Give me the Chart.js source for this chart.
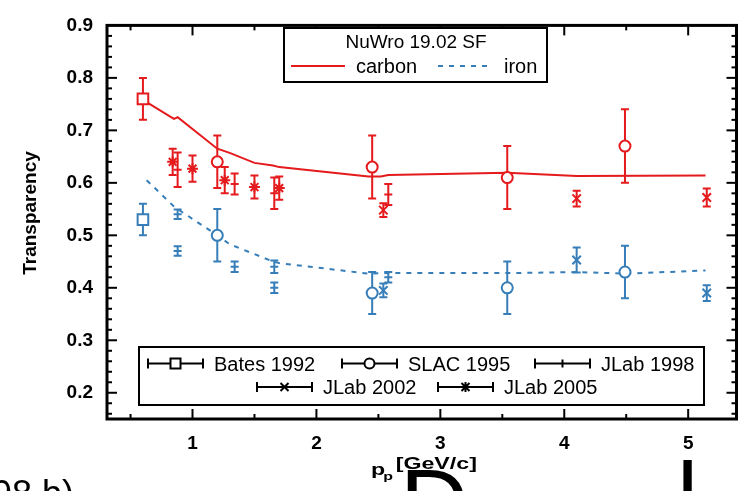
<!DOCTYPE html>
<html>
<head>
<meta charset="utf-8">
<script src="https://cdn.jsdelivr.net/npm/chart.js@4/dist/chart.umd.min.js"></script>
<style>
    html, body { margin: 0; padding: 0; background: #fff; overflow: hidden; }
    #wrap { position: relative; width: 746px; height: 491px; overflow: hidden; }
    .frag { position: absolute; font-family: "Liberation Sans", Arial, sans-serif; color: #000; line-height: 1; white-space: pre; }
</style>
</head>
<body>
<div id="wrap">
    <canvas id="chart" width="746" height="491"></canvas>
    <div class="frag" style="left:-48px; top:476px; font-size:36px;">1998 b)</div>
    <div class="frag" style="left:400px; top:455px; font-size:95px;">D</div>
    <div class="frag" style="left:677px; top:449px; font-size:95px;">l</div>
</div>
<script>
// axis ranges and tick labels
const xRange = [0.31, 5.39];
const yRange = [0.15, 0.9];
const xTicks = [1, 2, 3, 4, 5];
const yTicks = [0.2, 0.3, 0.4, 0.5, 0.6, 0.7, 0.8, 0.9];

// NuWro 19.02 SF curves
const carbonP = [0.60, 0.85, 0.88, 1.20, 1.30, 1.50, 1.65, 1.70, 2.42, 2.52, 2.58, 3.54, 4.10, 5.14];
const carbonT = [0.758, 0.722, 0.725, 0.665, 0.657, 0.638, 0.633, 0.630, 0.612, 0.612, 0.615, 0.619, 0.613, 0.614];
const ironP = [0.63, 0.85, 0.88, 1.20, 1.30, 1.65, 1.70, 2.42, 2.58, 3.54, 4.10, 4.50, 5.14];
const ironT = [0.605, 0.555, 0.55, 0.50, 0.483, 0.45, 0.447, 0.427, 0.428, 0.428, 0.43, 0.427, 0.433];

// measurements, carbon
const batesCP = [0.60], batesC = [0.76], batesCErr = [0.04];
const slacCP = [1.20, 2.45, 3.54, 4.49], slacC = [0.64, 0.63, 0.61, 0.67], slacCErr = [0.05, 0.06, 0.06, 0.07];
const jlab98CP = [0.88, 1.34, 1.66, 2.58], jlab98C = [0.625, 0.598, 0.58, 0.578], jlab98CErr = [0.033, 0.02, 0.03, 0.02];
const jlab02CP = [2.54, 4.10, 5.15], jlab02C = [0.548, 0.57, 0.572], jlab02CErr = [0.013, 0.015, 0.017];
const jlab05CP = [0.84, 1.00, 1.26, 1.50, 1.70], jlab05C = [0.64, 0.627, 0.605, 0.592, 0.59], jlab05CErr = [0.025, 0.025, 0.025, 0.022, 0.022];

// measurements, iron
const batesFP = [0.60], batesF = [0.53], batesFErr = [0.03];
const slacFP = [1.20, 2.45, 3.54, 4.49], slacF = [0.50, 0.39, 0.40, 0.43], slacFErr = [0.05, 0.04, 0.05, 0.05];
const jlab98FP = [0.88, 0.88, 1.34, 1.66, 1.66, 2.58], jlab98F = [0.54, 0.47, 0.44, 0.44, 0.40, 0.42], jlab98FErr = [0.009, 0.009, 0.01, 0.012, 0.01, 0.01];
const jlab02FP = [2.54, 4.10, 5.15], jlab02F = [0.395, 0.453, 0.39], jlab02FErr = [0.013, 0.024, 0.015];

const RED = '#e41a1c';
const BLUE = '#377eb8';
const FONT = '"Liberation Sans", Arial, sans-serif';

const pts = (xs, ys) => xs.map((v, i) => ({ x: v, y: ys[i] }));

function curve(label, xs, ys, color, dash) {
    return {
        label, type: 'scatter', showLine: true, data: pts(xs, ys),
        borderColor: color, borderWidth: 2, borderDash: dash, pointRadius: 0, order: 2
    };
}

function measured(label, xs, ys, errs, color, style, radius) {
    return {
        label, type: 'scatter', data: pts(xs, ys), errors: errs,
        borderColor: color, backgroundColor: '#fff', borderWidth: 2,
        pointStyle: style, pointRadius: radius, order: 1
    };
}

// vertical error bars with caps, drawn from the data through the scales
const errorBars = {
    id: 'errorBars',
    beforeDatasetsDraw(chart) {
        const { ctx, scales: { x, y } } = chart;
        chart.data.datasets.forEach(ds => {
            if (!ds.errors) return;
            ctx.save();
            ctx.strokeStyle = ds.borderColor;
            ctx.lineWidth = 2;
            ds.data.forEach((p, j) => {
                const px = x.getPixelForValue(p.x);
                const top = y.getPixelForValue(p.y + ds.errors[j]);
                const bot = y.getPixelForValue(p.y - ds.errors[j]);
                ctx.beginPath();
                ctx.moveTo(px, top); ctx.lineTo(px, bot);
                ctx.moveTo(px - 4, top); ctx.lineTo(px + 4, top);
                ctx.moveTo(px - 4, bot); ctx.lineTo(px + 4, bot);
                ctx.stroke();
            });
            ctx.restore();
        });
    }
};

function marker(ctx, style, cx, cy) {
    ctx.beginPath();
    if (style === 'rect') {
        ctx.fillRect(cx - 5, cy - 5, 10, 10);
        ctx.strokeRect(cx - 5, cy - 5, 10, 10);
        return;
    }
    if (style === 'circle') {
        ctx.arc(cx, cy, 5, 0, Math.PI * 2);
        ctx.fill();
    } else if (style === 'line') {
        ctx.moveTo(cx, cy - 4); ctx.lineTo(cx, cy + 4);
    } else if (style === 'crossRot') {
        ctx.moveTo(cx - 4, cy - 4); ctx.lineTo(cx + 4, cy + 4);
        ctx.moveTo(cx - 4, cy + 4); ctx.lineTo(cx + 4, cy - 4);
    } else if (style === 'star') {
        ctx.moveTo(cx - 4, cy - 4); ctx.lineTo(cx + 4, cy + 4);
        ctx.moveTo(cx - 4, cy + 4); ctx.lineTo(cx + 4, cy - 4);
        ctx.moveTo(cx, cy - 5); ctx.lineTo(cx, cy + 5);
    }
    ctx.stroke();
}

// frame, inward ticks, axis titles and the two legend boxes
const decor = {
    id: 'decor',
    afterDraw(chart) {
        const { ctx, chartArea: a, scales: { x, y } } = chart;
        ctx.save();
        ctx.strokeStyle = '#000';
        ctx.fillStyle = '#000';
        ctx.lineCap = 'butt';

        const seg = (x1, y1, x2, y2) => { ctx.beginPath(); ctx.moveTo(x1, y1); ctx.lineTo(x2, y2); ctx.stroke(); };

        ctx.lineWidth = 2;
        for (let v = 0.16; v < 0.9; v += 0.02) {
            const py = y.getPixelForValue(v);
            const len = Math.abs(v * 10 - Math.round(v * 10)) < 0.01 ? 10 : 5;
            seg(a.left, py, a.left + len, py);
            seg(a.right, py, a.right - len, py);
        }
        for (let v = 0.5; v < 5.4; v += 0.5) {
            const px = x.getPixelForValue(v);
            const len = Number.isInteger(v) ? 10 : 5;
            seg(px, a.bottom, px, a.bottom - len);
            seg(px, a.top, px, a.top + len);
        }
        ctx.lineWidth = 3;
        ctx.strokeRect(a.left, a.top, a.right - a.left, a.bottom - a.top);

        // y title
        ctx.save();
        ctx.translate(31, 213);
        ctx.rotate(-Math.PI / 2);
        ctx.font = 'bold 19px ' + FONT;
        ctx.textAlign = 'center';
        ctx.textBaseline = 'middle';
        ctx.fillText('Transparency', 0, 0);
        ctx.restore();

        // x title: p_p [GeV/c], stretched like the original
        ctx.save();
        ctx.translate(371, 0);
        ctx.scale(1.45, 1);
        ctx.textAlign = 'left';
        ctx.textBaseline = 'alphabetic';
        ctx.font = 'bold 16px ' + FONT;
        ctx.fillText('p', 0, 475);
        ctx.font = 'bold 11px ' + FONT;
        ctx.fillText('p', 8.5, 480);
        ctx.font = 'bold 16px ' + FONT;
        ctx.fillText('[GeV/c]', 17, 469);
        ctx.restore();

        // top legend
        ctx.lineWidth = 2;
        ctx.fillStyle = '#fff';
        ctx.fillRect(284, 28, 263, 54);
        ctx.strokeRect(284, 28, 263, 54);
        ctx.fillStyle = '#000';
        ctx.font = '19px ' + FONT;
        ctx.textAlign = 'center';
        ctx.fillText('NuWro 19.02 SF', 416, 48);
        ctx.textAlign = 'left';
        ctx.font = '20px ' + FONT;
        ctx.strokeStyle = RED;
        seg(291, 66, 345, 66);
        ctx.fillText('carbon', 356, 73);
        ctx.strokeStyle = BLUE;
        ctx.setLineDash([5, 6]);
        seg(438, 66, 488, 66);
        ctx.setLineDash([]);
        ctx.fillText('iron', 504, 73);

        // bottom legend
        ctx.strokeStyle = '#000';
        ctx.fillStyle = '#fff';
        ctx.fillRect(139, 347, 565, 58);
        ctx.strokeRect(139, 347, 565, 58);
        const entries = [
            ['Bates 1992', 'rect', 148, 363.5],
            ['SLAC 1995', 'circle', 342, 363.5],
            ['JLab 1998', 'line', 535, 363.5],
            ['JLab 2002', 'crossRot', 257, 387],
            ['JLab 2005', 'star', 438, 387]
        ];
        entries.forEach(([text, style, bx, by]) => {
            ctx.strokeStyle = '#000';
            ctx.lineWidth = 2;
            seg(bx, by, bx + 55, by);
            seg(bx, by - 5, bx, by + 5);
            seg(bx + 55, by - 5, bx + 55, by + 5);
            ctx.fillStyle = '#fff';
            marker(ctx, style, bx + 27.5, by);
            ctx.fillStyle = '#000';
            ctx.font = '20px ' + FONT;
            ctx.fillText(text, bx + 66, by + 7);
        });
        ctx.restore();
    }
};

new Chart(document.getElementById('chart'), {
    type: 'scatter',
    data: {
        datasets: [
            measured('Bates 1992 C', batesCP, batesC, batesCErr, RED, 'rect', 7.5),
            measured('SLAC 1995 C', slacCP, slacC, slacCErr, RED, 'circle', 5.5),
            measured('JLab 1998 C', jlab98CP, jlab98C, jlab98CErr, RED, 'line', 4),
            measured('JLab 2002 C', jlab02CP, jlab02C, jlab02CErr, RED, 'crossRot', 6),
            measured('JLab 2005 C', jlab05CP, jlab05C, jlab05CErr, RED, 'star', 5.5),
            measured('Bates 1992 Fe', batesFP, batesF, batesFErr, BLUE, 'rect', 7.5),
            measured('SLAC 1995 Fe', slacFP, slacF, slacFErr, BLUE, 'circle', 5.5),
            measured('JLab 1998 Fe', jlab98FP, jlab98F, jlab98FErr, BLUE, 'line', 4),
            measured('JLab 2002 Fe', jlab02FP, jlab02F, jlab02FErr, BLUE, 'crossRot', 6),
            curve('carbon', carbonP, carbonT, RED, []),
            curve('iron', ironP, ironT, BLUE, [5, 6])
        ]
    },
    options: {
        responsive: false,
        animation: false,
        events: [],
        layout: { padding: { left: 0, right: 4, top: 10, bottom: 0 } },
        plugins: { legend: { display: false }, tooltip: { enabled: false } },
        scales: {
            x: {
                type: 'linear', min: xRange[0], max: xRange[1],
                afterBuildTicks: s => { s.ticks = xTicks.map(v => ({ value: v })); },
                afterFit: s => { s.height = 72; },
                grid: { display: false, drawTicks: false },
                border: { display: false },
                ticks: { color: '#000', padding: 13, maxRotation: 0, font: { family: FONT, size: 19, weight: 'bold' } }
            },
            y: {
                type: 'linear', min: yRange[0], max: yRange[1],
                afterBuildTicks: s => { s.ticks = yTicks.map(v => ({ value: v })); },
                afterFit: s => { s.width = 107; },
                grid: { display: false, drawTicks: false },
                border: { display: false },
                ticks: { color: '#000', padding: 14, font: { family: FONT, size: 19, weight: 'bold' }, callback: v => v.toFixed(1) }
            }
        }
    },
    plugins: [errorBars, decor]
});
</script>
</body>
</html>
